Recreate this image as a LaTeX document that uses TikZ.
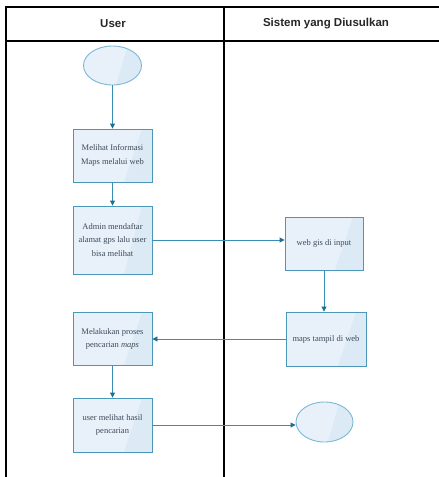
\documentclass[tikz,border=0pt]{standalone}
\usepackage{fontspec}
\setmainfont{Liberation Serif}
\newfontfamily\headfont{Liberation Sans}
\usetikzlibrary{shapes.geometric,arrows.meta,calc}
\definecolor{boxfill}{HTML}{E8F1FA}
\definecolor{boxshade}{HTML}{DCEAF6}
\definecolor{boxline}{HTML}{4A97BA}
\definecolor{ovalline}{HTML}{7DB7D2}
\definecolor{flow}{HTML}{3A8DB3}
\definecolor{tiptone}{HTML}{1E6E8F}
\definecolor{labeltext}{HTML}{3C4A5A}
\tikzset{
  lane/.style={line width=2.6pt, black},
  header/.style={font=\headfont\bfseries\fontsize{11.5}{13}\selectfont, text=black!85},
  actbox/.style={rectangle, draw=boxline, line width=0.9pt, fill=boxfill,
    minimum width=79pt, minimum height=53pt, align=center, text=labeltext,
    font=\fontsize{8.5}{13.5}\selectfont, inner sep=1pt,
    path picture={\fill[boxshade]
      ($(path picture bounding box.north east)+(-10pt,0)$) --
      ($(path picture bounding box.south east)+(-28pt,0)$) --
      (path picture bounding box.south east) --
      (path picture bounding box.north east) -- cycle;}},
  terminal/.style={ellipse, draw=ovalline, line width=0.9pt, fill=boxfill,
    minimum width=58pt, minimum height=39pt, inner sep=0pt,
    path picture={\fill[boxshade]
      ($(path picture bounding box.north west)!0.76!(path picture bounding box.north east)$) --
      ($(path picture bounding box.south west)!0.56!(path picture bounding box.south east)$) --
      (path picture bounding box.south east) --
      (path picture bounding box.north east) -- cycle;}},
  flowarrow/.style={draw=flow, line width=0.9pt,
    -{Triangle[length=5pt,width=5pt,fill=tiptone,color=tiptone]}}
}
\begin{document}
\begin{tikzpicture}[x=1pt,y=-1pt]
\useasboundingbox (0,0) rectangle (439,477);
% swimlane frame
\coordinate (tl) at (6,7);
\coordinate (tr) at (439,7);
\coordinate (bl) at (6,477);
\coordinate (hl) at (6,41);
\coordinate (hr) at (439,41);
\coordinate (dt) at (224,7);
\coordinate (db) at (224,477);
\draw[lane] (tr) -- (tl) -- (bl);
\draw[lane] (hl) -- (hr);
\draw[lane] (dt) -- (db);
\node[header] (huser) at (113,24) {User};
\node[header] (hsys) at (326,24) {Sistem yang Diusulkan};
% activities
\node[terminal] (start) at (112.5,65.5) {};
\node[actbox] (a1) at (112.5,155.5) {Melihat Informasi\\Maps melalui web};
\node[actbox, minimum height=68pt] (a2) at (112.5,240) {Admin mendaftar\\alamat gps lalu user\\bisa melihat};
\node[actbox] (a3) at (112.5,339) {Melakukan proses\\pencarian \textit{maps}};
\node[actbox, minimum height=54pt] (a4) at (112.5,425) {user melihat hasil\\pencarian};
\node[actbox, minimum width=78pt] (s1) at (324,243.5) {web gis di input};
\node[actbox, minimum width=80pt, minimum height=54pt] (s2) at (326,339) {maps tampil di web};
\node[terminal, minimum width=57pt, minimum height=40pt] (stop) at (324.5,422) {};
% flows
\draw[flowarrow] (start) -- (a1);
\draw[flowarrow] (a1) -- (a2);
\draw[flowarrow] (a2.east) -- (a2.east -| s1.west);
\draw[flowarrow] (s1.south -| 324,0) -- (s2.north -| 324,0);
\draw[flowarrow] (s2.west) -- (s2.west -| a3.east);
\draw[flowarrow] (a3) -- (a4);
\draw[flowarrow] (a4.east) -- (a4.east -| stop.west);
\end{tikzpicture}
\end{document}
